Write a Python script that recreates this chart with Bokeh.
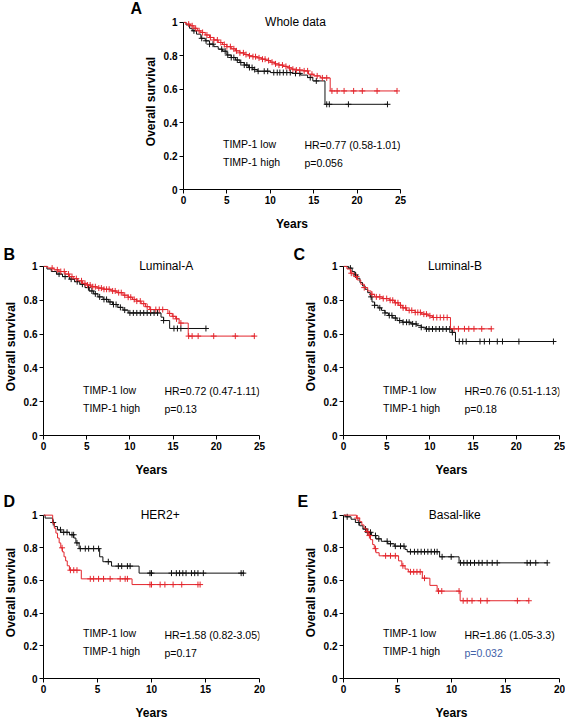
from bokeh.plotting import figure
from bokeh.layouts import column, row
from bokeh.models import (Range1d, FixedTicker, NumeralTickFormatter, Label,
                          Legend, LegendItem)
from bokeh.embed import file_html
from bokeh.resources import INLINE

FONT = "Liberation Sans"
BLACK = "#111111"
RED = "#e3262d"
BLUE = "#4262a8"

# ---------------- data ----------------
# Panel A: Whole data
a_low_t = [0, 0.3, 0.7, 1.0, 1.5, 2.0, 2.5, 3.0, 3.5, 4.0, 4.5, 5.0, 5.5, 6.0, 6.5, 7.0, 7.5, 8.0, 8.5, 10.0, 12.5, 13.5, 14.3, 14.9, 16.3]
a_low_s = [1.0, 0.985, 0.965, 0.95, 0.93, 0.905, 0.89, 0.87, 0.855, 0.84, 0.828, 0.805, 0.79, 0.775, 0.76, 0.745, 0.73, 0.718, 0.708, 0.70, 0.695, 0.685, 0.67, 0.65, 0.51]
a_low_end = 23.5
a_low_cens = [1.2, 2.1, 2.6, 3.0, 3.4, 4.4, 4.8, 5.1, 5.5, 5.8, 6.2, 6.6, 7.0, 7.3, 7.6, 7.9, 8.2, 8.6, 9.3, 9.7, 10.4, 10.8, 11.1, 11.5, 11.9, 12.3, 12.9, 13.4, 14.6, 15.3, 16.5, 16.8, 19.0, 23.5]
a_high_t = [0, 0.3, 0.8, 1.2, 1.6, 2.0, 2.5, 3.0, 3.5, 4.0, 4.5, 5.0, 5.5, 6.0, 6.5, 7.0, 7.5, 8.0, 8.5, 9.0, 9.5, 10.0, 10.5, 11.0, 11.5, 12.0, 12.5, 13.0, 13.8, 14.4, 15.0, 15.8, 16.9]
a_high_s = [1.0, 0.99, 0.98, 0.965, 0.95, 0.94, 0.925, 0.91, 0.895, 0.88, 0.868, 0.855, 0.842, 0.83, 0.818, 0.808, 0.80, 0.795, 0.788, 0.78, 0.772, 0.762, 0.752, 0.745, 0.737, 0.728, 0.72, 0.715, 0.71, 0.69, 0.68, 0.668, 0.59]
a_high_end = 24.6
a_high_cens = [0.6, 1.0, 1.4, 1.8, 2.2, 2.7, 3.1, 3.5, 3.9, 4.3, 4.7, 5.0, 5.4, 5.8, 6.1, 6.5, 6.9, 7.2, 7.6, 8.0, 8.3, 8.7, 9.1, 9.4, 9.8, 10.2, 10.6, 11.0, 11.4, 11.8, 12.2, 12.6, 13.0, 13.4, 13.9, 14.3, 14.8, 15.4, 16.0, 16.5, 17.1, 17.7, 18.5, 19.6, 20.6, 22.3, 24.6]
a_hr = "HR=0.77 (0.58-1.01)"
a_p = "p=0.056"

# Panel B: Luminal-A
b_low_t = [0, 0.4, 0.9, 1.5, 2.2, 3.0, 3.6, 4.2, 4.8, 5.3, 5.8, 6.3, 6.9, 7.5, 8.0, 8.6, 9.2, 9.8, 13.6, 13.9, 14.6]
b_low_s = [1.0, 0.985, 0.97, 0.955, 0.94, 0.925, 0.91, 0.895, 0.875, 0.855, 0.838, 0.82, 0.805, 0.79, 0.775, 0.758, 0.742, 0.725, 0.70, 0.68, 0.633]
b_low_end = 18.9
b_low_cens = [1.8, 2.5, 3.2, 3.9, 4.5, 5.2, 5.6, 6.0, 6.5, 7.0, 7.3, 7.7, 8.1, 8.4, 8.9, 9.4, 10.0, 10.4, 10.8, 11.2, 11.6, 12.0, 12.4, 12.8, 13.2, 13.9, 15.1, 15.5, 15.9, 18.8]
b_high_t = [0, 0.5, 1.2, 1.8, 2.5, 3.0, 3.5, 4.0, 4.5, 5.0, 5.5, 6.2, 7.0, 7.8, 8.5, 9.2, 9.8, 10.3, 10.8, 11.3, 11.8, 12.3, 14.4, 14.9, 15.3, 15.7, 16.75]
b_high_s = [1.0, 0.99, 0.98, 0.97, 0.955, 0.94, 0.928, 0.915, 0.90, 0.89, 0.88, 0.872, 0.865, 0.855, 0.845, 0.83, 0.818, 0.805, 0.795, 0.78, 0.762, 0.745, 0.722, 0.705, 0.69, 0.665, 0.588]
b_high_end = 24.5
b_high_cens = [1.0, 1.6, 2.0, 2.4, 2.9, 3.3, 3.8, 4.4, 4.8, 5.1, 5.4, 5.7, 6.0, 6.4, 6.7, 7.0, 7.3, 7.6, 8.0, 8.3, 8.7, 9.0, 9.4, 9.8, 10.1, 10.5, 10.8, 11.2, 11.6, 12.0, 12.4, 13.0, 13.4, 13.8, 14.6, 15.0, 15.4, 15.9, 16.8, 17.2, 17.9, 19.7, 22.2, 24.4]
b_hr = "HR=0.72 (0.47-1.11)"
b_p = "p=0.13"

# Panel C: Luminal-B
c_low_t = [0, 0.6, 1.0, 1.3, 1.6, 1.9, 2.2, 2.5, 2.8, 3.1, 3.3, 3.6, 4.0, 4.4, 4.8, 5.2, 5.7, 6.2, 6.8, 7.8, 8.5, 9.0, 9.5, 12.55, 12.96]
c_low_s = [1.0, 0.99, 0.97, 0.95, 0.93, 0.905, 0.885, 0.865, 0.845, 0.82, 0.79, 0.77, 0.755, 0.74, 0.725, 0.71, 0.695, 0.68, 0.67, 0.66, 0.65, 0.64, 0.63, 0.61, 0.556]
c_low_end = 24.3
c_low_cens = [0.8, 1.4, 3.2, 3.6, 4.2, 4.8, 5.3, 5.6, 6.0, 6.5, 6.9, 7.3, 7.6, 8.0, 8.4, 9.0, 9.6, 9.9, 10.3, 10.7, 11.1, 11.5, 11.9, 12.3, 12.6, 13.4, 13.8, 14.2, 15.8, 16.3, 16.9, 17.8, 18.4, 20.3, 24.3]
c_high_t = [0, 0.4, 0.8, 1.2, 1.6, 2.0, 2.4, 2.8, 3.2, 3.6, 4.5, 5.3, 5.9, 6.4, 6.8, 7.3, 8.3, 9.0, 9.8, 10.3, 12.38]
c_high_s = [1.0, 0.985, 0.96, 0.94, 0.92, 0.895, 0.875, 0.855, 0.835, 0.82, 0.81, 0.80, 0.785, 0.77, 0.755, 0.74, 0.728, 0.718, 0.708, 0.698, 0.631]
c_high_end = 17.2
c_high_cens = [0.9, 1.5, 2.4, 3.3, 3.8, 4.2, 4.6, 5.0, 5.4, 5.7, 6.0, 6.3, 6.6, 6.9, 7.2, 7.6, 7.9, 8.3, 8.6, 8.9, 9.3, 9.6, 10.0, 10.4, 10.8, 11.2, 11.6, 12.0, 12.8, 13.3, 14.0, 14.5, 15.1, 16.0, 17.1]
c_hr = "HR=0.76 (0.51-1.13)"
c_p = "p=0.18"

# Panel D: HER2+
d_low_t = [0, 0.15, 0.85, 1.0, 1.3, 1.6, 2.4, 2.8, 3.0, 3.3, 5.2, 5.5, 6.3, 8.85]
d_low_s = [1.0, 0.982, 0.955, 0.93, 0.91, 0.895, 0.88, 0.86, 0.83, 0.795, 0.745, 0.715, 0.688, 0.645]
d_low_end = 18.6
d_low_cens = [0.9, 1.57, 1.87, 2.18, 2.64, 2.79, 3.1, 3.41, 3.87, 4.18, 4.64, 5.1, 6.0, 6.93, 7.24, 7.77, 8.02, 9.86, 10.0, 11.85, 12.3, 12.6, 12.9, 13.2, 13.7, 14.0, 14.3, 14.8, 18.3, 18.5]
d_high_t = [0, 0.85, 1.0, 1.15, 1.3, 1.45, 1.6, 1.75, 1.9, 2.05, 2.2, 2.4, 3.5, 8.2]
d_high_s = [1.0, 0.95, 0.92, 0.89, 0.86, 0.83, 0.80, 0.775, 0.745, 0.72, 0.69, 0.663, 0.61, 0.575]
d_high_end = 14.5
d_high_cens = [1.72, 2.49, 2.8, 3.1, 4.33, 4.64, 5.1, 5.56, 6.17, 7.1, 7.56, 7.77, 9.86, 10.0, 10.8, 11.24, 12.0, 12.8, 14.3, 14.5]
d_hr = "HR=1.58 (0.82-3.05)"
d_p = "p=0.17"

# Panel E: Basal-like
e_low_t = [0, 0.2, 0.7, 1.1, 1.5, 1.8, 2.2, 2.6, 3.0, 3.5, 4.1, 4.7, 5.7, 5.9, 8.9, 10.7]
e_low_s = [1.0, 0.99, 0.975, 0.955, 0.935, 0.915, 0.895, 0.875, 0.855, 0.84, 0.825, 0.81, 0.79, 0.776, 0.745, 0.708]
e_low_end = 18.86
e_low_cens = [0.34, 1.42, 2.04, 2.25, 2.5, 2.96, 3.27, 4.04, 4.35, 4.8, 5.28, 5.6, 6.2, 6.57, 6.88, 7.19, 7.5, 7.81, 8.12, 8.43, 8.67, 9.13, 9.97, 10.83, 11.14, 11.45, 11.76, 12.13, 12.53, 12.84, 13.3, 13.77, 14.23, 17.0, 17.3, 17.8, 18.86]
e_high_t = [0, 1.2, 1.5, 1.7, 1.9, 2.1, 2.3, 2.5, 2.7, 2.85, 3.0, 3.3, 5.1, 5.4, 5.7, 6.0, 7.3, 8.0, 8.67, 10.8]
e_high_s = [1.0, 0.982, 0.96, 0.94, 0.92, 0.90, 0.875, 0.85, 0.82, 0.795, 0.77, 0.751, 0.72, 0.69, 0.67, 0.653, 0.614, 0.57, 0.535, 0.476]
e_high_end = 17.16
e_high_cens = [1.27, 2.2, 2.4, 2.96, 3.9, 4.35, 4.8, 5.5, 6.2, 6.5, 6.8, 7.1, 7.5, 8.8, 9.1, 10.7, 11.08, 11.45, 11.9, 12.7, 13.3, 16.1, 17.16]
e_hr = "HR=1.86 (1.05-3.3)"
e_p = "p=0.032"

legend_labels = ["TIMP-1 low", "TIMP-1 high"]
y_ticks = [0, 0.2, 0.4, 0.6, 0.8, 1.0]

EXT = 9  # px of frame kept above the y=1 line, room for the panel titles


def surv_at(t_list, s_list, c):
    val = s_list[0]
    for t, s in zip(t_list, s_list):
        if t <= c:
            val = s
    return val


def make_panel(letter, title, title_x, xmax, low, high, hr, pv, pcolor,
               width, height, bl, br, bt, bb, unit_px, letter_dx, letter_so):
    ytop = 1.0 + EXT / unit_px
    p = figure(width=width, height=height, min_border_left=bl, min_border_right=br,
               min_border_top=bt, min_border_bottom=bb,
               x_range=Range1d(0, xmax), y_range=Range1d(0, ytop),
               output_backend="svg", toolbar_location=None, tools="")
    p.outline_line_color = None
    p.grid.visible = False
    p.background_fill_color = None
    p.border_fill_color = None

    p.xaxis.ticker = FixedTicker(ticks=list(range(0, xmax + 1, 5)))
    p.yaxis.ticker = FixedTicker(ticks=y_ticks)
    p.yaxis.formatter = NumeralTickFormatter(format="0.[0]")
    p.yaxis.bounds = (0, 1)
    p.xaxis.axis_label = "Years"
    p.yaxis.axis_label = "Overall survival"
    for ax in (p.xaxis[0], p.yaxis[0]):
        ax.major_tick_in = 0
        ax.major_tick_out = 4
        ax.minor_tick_line_color = None
        ax.axis_line_color = "black"
        ax.major_tick_line_color = "black"
        ax.major_label_text_font = FONT
        ax.major_label_text_font_style = "bold"
        ax.major_label_text_font_size = "10px"
        ax.major_label_text_color = "black"
        ax.major_label_standoff = 2
        ax.axis_label_text_font = FONT
        ax.axis_label_text_font_style = "bold"
        ax.axis_label_text_font_size = "12px"
        ax.axis_label_text_color = "black"
    p.xaxis.axis_label_standoff = 10
    p.yaxis.axis_label_standoff = 3

    # panel letter as the figure title
    p.title.text = letter
    p.title.align = "left"
    p.title.offset = letter_dx
    p.title.vertical_align = "bottom"
    p.title.text_font = FONT
    p.title.text_font_size = "16px"
    p.title.text_font_style = "bold"
    p.title.text_color = "black"
    try:
        p.title.standoff = letter_so
    except Exception:
        p.title.standoff = 0

    for (t, s, end, cens), col in ((low, BLACK), (high, RED)):
        xs = list(t) + [end]
        ys = list(s) + [s[-1]]
        p.step(xs, ys, mode="after", line_color=col, line_width=1)
        cy = [surv_at(t, s, c) for c in cens]
        p.scatter(cens, cy, marker="cross", size=6, line_color=col, line_width=1)

    r_low = p.line(x=[], y=[], line_color="black", line_width=4)
    r_high = p.line(x=[], y=[], line_color=RED, line_width=4)
    leg = Legend(items=[LegendItem(label=legend_labels[0], renderers=[r_low]),
                        LegendItem(label=legend_labels[1], renderers=[r_high])],
                 location=(11, 18), glyph_width=27, glyph_height=18, label_height=18,
                 label_standoff=2, spacing=0, padding=0, margin=0,
                 border_line_color=None, background_fill_alpha=0,
                 label_text_font=FONT, label_text_font_size="10.5px",
                 label_text_color="black")
    p.add_layout(leg)

    p.add_layout(Label(x=0, y=0.265, x_offset=121, text=hr, text_font=FONT,
                       text_font_size="10.5px", text_baseline="middle",
                       text_color="black"))
    p.add_layout(Label(x=0, y=0.159, x_offset=121, text=pv, text_font=FONT,
                       text_font_size="10.5px", text_baseline="middle", text_color=pcolor))
    p.add_layout(Label(x=title_x, y=1.0, text=title, text_font=FONT,
                       text_font_size="12px", text_align="center", text_baseline="middle",
                       text_color="black"))
    return p


pa = make_panel("A", "Whole data", 12.9, 25,
                (a_low_t, a_low_s, a_low_end, a_low_cens),
                (a_high_t, a_high_s, a_high_end, a_high_cens), a_hr, a_p, "black",
                565, 241, 183, 165, 12, 52, 168, -53, -6)
pb = make_panel("B", "Luminal-A", 14.2, 25,
                (b_low_t, b_low_s, b_low_end, b_low_cens),
                (b_high_t, b_high_s, b_high_end, b_high_cens), b_hr, b_p, "black",
                285, 238, 42, 26, 16, 43, 170, -40, -10)
pc = make_panel("C", "Luminal-B", 12.9, 25,
                (c_low_t, c_low_s, c_low_end, c_low_cens),
                (c_high_t, c_high_s, c_high_end, c_high_cens), c_hr, c_p, "black",
                280, 238, 58, 6, 16, 43, 170, -50, -10)
pd_ = make_panel("D", "HER2+", 10.8, 20,
                 (d_low_t, d_low_s, d_low_end, d_low_cens),
                 (d_high_t, d_high_s, d_high_end, d_high_cens), d_hr, d_p, "black",
                 285, 243, 42, 26, 27, 37, 170, -40, -6)
pe = make_panel("E", "Basal-like", 10.3, 20,
                (e_low_t, e_low_s, e_low_end, e_low_cens),
                (e_high_t, e_high_s, e_high_end, e_high_cens), e_hr, e_p, BLUE,
                280, 243, 58, 6, 27, 37, 170, -46, -6)

layout = column(pa, row(pb, pc), row(pd_, pe))
open("out.html", "w").write(file_html(layout, INLINE))
